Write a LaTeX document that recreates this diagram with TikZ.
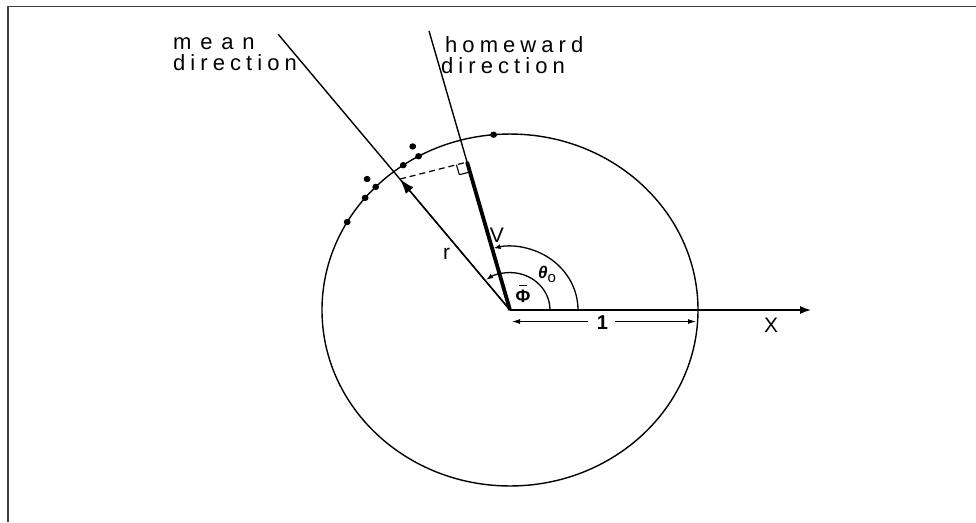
\documentclass[tikz,border=0pt]{standalone}
\usepackage{fontspec}
\setmainfont{Liberation Sans}
\newfontfamily\spaced[LetterSpace=23]{Liberation Sans}
\newfontfamily\spacedw[LetterSpace=40]{Liberation Sans}
\usetikzlibrary{arrows.meta,calc}
\begin{document}
\begin{tikzpicture}[x=1pt,y=0.936pt,line join=round,
  thinl/.style={line width=1.4pt},
  thickl/.style={line width=3.8pt},
  lbl/.style={inner sep=0pt,font=\fontsize{21}{24}\selectfont},
  slbl/.style={inner sep=0pt,font=\fontsize{22}{24}\selectfont\spaced},
  dotc/.style={fill=black,draw=none},
  arcarrow/.style={line width=1.3pt,-{Latex[length=7pt,width=5pt]}},
  dimline/.style={line width=1pt}]
\useasboundingbox (-510,-226.5) rectangle (466,331.2);
% frame
\coordinate (FR1) at (466,324.3);
\coordinate (FR2) at (-502,324.3);
\coordinate (FR3) at (-502,-226.5);
\draw[line width=1.3pt,black!75] (FR1) -- (FR2) -- (FR3);
% key points
\coordinate (O) at (0,0);
\coordinate (H) at (105.2:309);
\coordinate (M) at (128.2:375);
\coordinate (R) at (128.2:178);
\coordinate (F) at (105.2:163.8);
\coordinate (Xe) at (301,0);
% circle
\draw[thinl] (O) circle[radius=188];
% axis
\draw[thinl,-{Latex[length=11pt,width=8pt]}] (O) -- (Xe);
% directions
\draw[thinl] (O) -- (M);
\draw[thinl] (O) -- (H);
\draw[thickl] (O) -- (F);
\draw[thinl,-{Latex[length=15pt,width=10pt]}] (O) -- (R);
% dashed perpendicular and right angle mark
\draw[line width=1.2pt,dash pattern=on 6pt off 4pt] (R) -- (F);
\coordinate (P1) at ($(F)+(195.2:11)$);
\coordinate (P3) at ($(F)+(285.2:11)$);
\coordinate (P2) at ($(P1)+(P3)-(F)$);
\draw[line width=1.1pt] (P1) -- (P2) -- (P3);
% angle arcs
\draw[arcarrow] (68,0) arc[start angle=0,end angle=104,radius=68];
\draw[arcarrow] (40,0) arc[start angle=0,end angle=126.5,radius=40];
% data points
\foreach \a in {150,140.4,135.6,124.6,119.1,95}{\fill[dotc] (\a:188) circle[radius=3.4];}
\fill[dotc] (135.6:200) circle[radius=3.4];
\fill[dotc] (119.1:200) circle[radius=3.4];
% dimension line
\coordinate (d1) at (2,-12.3);
\coordinate (g1) at (78,-12.3);
\coordinate (g2) at (105,-12.3);
\coordinate (d2) at (186,-12.3);
\draw[dimline,{Latex[length=8pt,width=5pt]}-] (d1) -- (g1);
\draw[dimline,-{Latex[length=8pt,width=5pt]}] (g2) -- (d2);
\node[inner sep=0pt,font=\fontsize{20}{22}\selectfont\bfseries] (one) at (92.5,-14) {1};
% labels
\node[inner sep=0pt,font=\fontsize{22}{24}\selectfont\spacedw,anchor=base west] (meanA) at (-337,277.8) {mean};
\node[slbl,anchor=base west] (meanB) at (-337,256.4) {direction};
\node[slbl,anchor=base west] (homeA) at (-65,274.6) {homeward};
\node[slbl,anchor=base west] (homeB) at (-69,253.2) {direction};
\node[lbl] (rl) at (-63.5,59.8) {r};
\node[lbl] (vl) at (-13,80.1) {V};
\node[lbl] (xl) at (261,-16) {X};
\node[inner sep=0pt,font=\fontsize{17}{20}\selectfont] (th) at (37,38) {{\bfseries\itshape θ}\raisebox{-4pt}{\fontsize{15}{15}\selectfont o}};
\node[inner sep=0pt,font=\fontsize{18}{20}\selectfont\bfseries] (ph) at (13,15) {Φ};
\draw[line width=1.3pt] ($(ph.north)+(-4,4)$) -- ($(ph.north)+(4,4)$);
\end{tikzpicture}
\end{document}
